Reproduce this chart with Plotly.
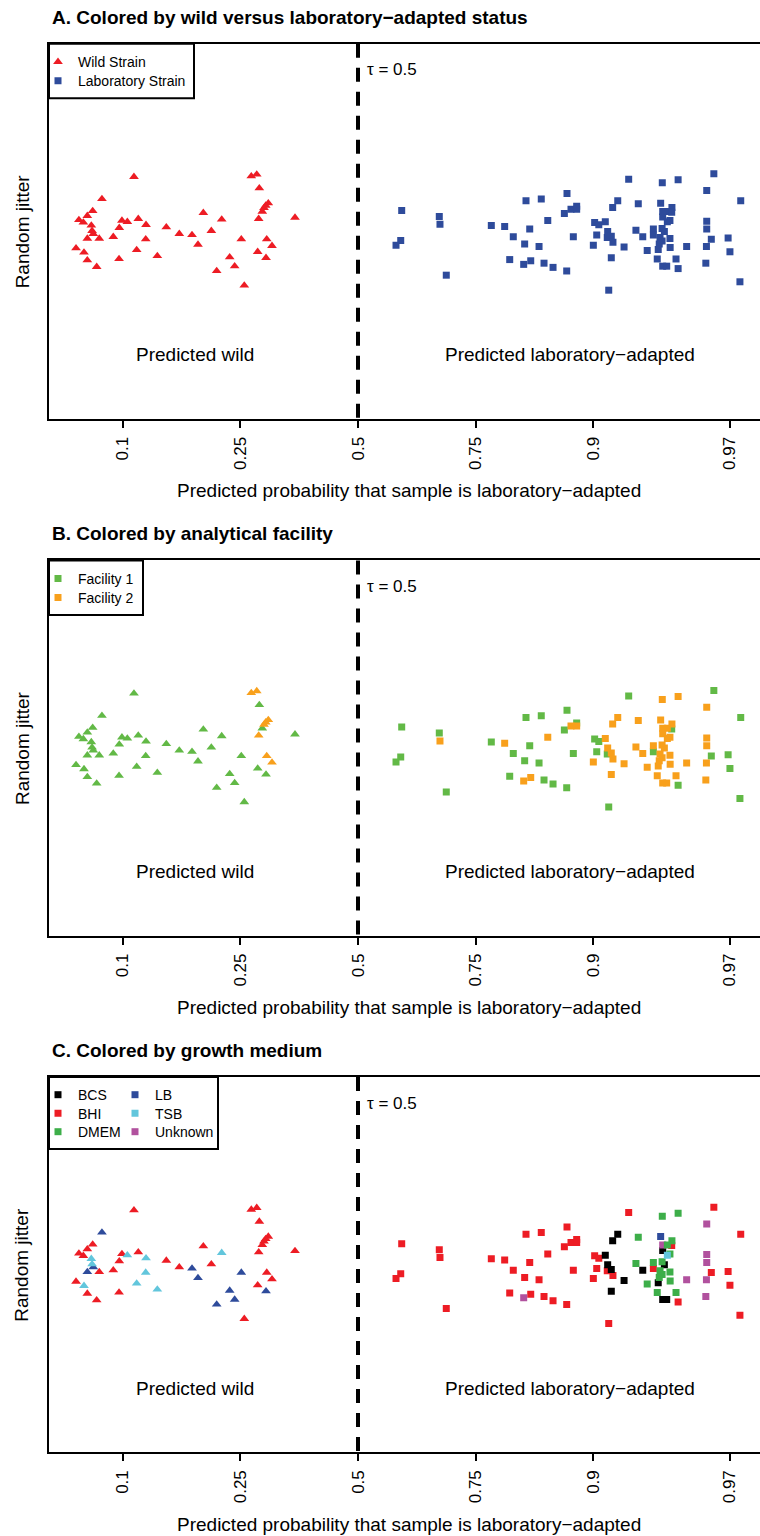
import numpy as np
import plotly.graph_objects as go

# ------------------------------------------------------------------ data
# Wild strains (triangles): predicted probability, random jitter, facility, growth medium
wild_prob = [0.1097, 0.0837, 0.0773, 0.0738, 0.0686, 0.0713, 0.0764, 0.0769, 0.0777, 0.0738,
             0.0818, 0.0669, 0.0717, 0.0738, 0.0800, 0.0992, 0.1038, 0.0970, 0.0922, 0.1137,
             0.1212, 0.1209, 0.1122, 0.0968, 0.1329, 0.1429, 0.1584, 0.1749, 0.1831, 0.1907,
             0.2025, 0.2186, 0.2515, 0.2316, 0.2107, 0.2400, 0.2568, 0.2695, 0.2796, 0.2845,
             0.3019, 0.2968, 0.2935, 0.2902, 0.2833, 0.2988, 0.3092, 0.2814, 0.2974, 0.3569]
wild_jitter = [0.92, 0.55, 0.35, 0.27, 0.20, 0.16, 0.11, 0.02, -0.03, -0.11,
               -0.11, -0.27, -0.34, -0.47, -0.58, 0.19, 0.17, 0.07, -0.08, 0.22,
               0.12, -0.12, -0.30, -0.45, -0.40, 0.08, -0.03, -0.05, -0.21, 0.32,
               0.02, 0.21, -0.12, -0.42, -0.65, -0.57, -0.89, 0.93, 0.96, 0.73,
               0.48, 0.44, 0.40, 0.34, 0.22, -0.12, -0.23, -0.33, -0.43, 0.24]
wild_facility = [1, 1, 1, 1, 1, 1, 1, 1, 1, 1,
                 1, 1, 1, 1, 1, 1, 1, 1, 1, 1,
                 1, 1, 1, 1, 1, 1, 1, 1, 1, 1,
                 1, 1, 1, 1, 1, 1, 1, 2, 2, 1,
                 2, 2, 2, 1, 2, 2, 2, 1, 1, 1]
wild_medium = ["BHI", "LB", "BHI", "BHI", "BHI", "BHI", "TSB", "TSB", "LB", "LB",
               "BHI", "BHI", "TSB", "BHI", "BHI", "BHI", "TSB", "BHI", "BHI", "BHI",
               "TSB", "TSB", "TSB", "BHI", "TSB", "BHI", "BHI", "LB", "LB", "BHI",
               "BHI", "TSB", "LB", "LB", "LB", "LB", "BHI", "BHI", "BHI", "BHI",
               "BHI", "BHI", "BHI", "BHI", "BHI", "BHI", "BHI", "BHI", "LB", "BHI"]

# Laboratory strains (squares)
lab_prob = [0.6007, 0.5985, 0.5879, 0.6813, 0.6827, 0.6953, 0.7766, 0.7975, 0.8102, 0.8278,
            0.8472, 0.8327, 0.8260, 0.8445, 0.8549, 0.8758, 0.8731, 0.8798, 0.8853, 0.8853,
            0.8821, 0.8050, 0.8247, 0.8340, 0.8505, 0.8609, 0.8755,
            0.9262, 0.9450, 0.9522, 0.9653, 0.9630, 0.9728, 0.9189, 0.9153, 0.9321, 0.9442,
            0.9495, 0.9474, 0.9452, 0.9486, 0.9013, 0.9047, 0.9098, 0.9630, 0.9630, 0.9116,
            0.9030, 0.9143, 0.9113, 0.9155, 0.9307, 0.9347, 0.9405, 0.9405, 0.9449, 0.9460,
            0.9439, 0.9449, 0.9486, 0.9435, 0.9487, 0.9430, 0.9002, 0.9232, 0.9372, 0.9557,
            0.9629, 0.9645, 0.9695, 0.9700, 0.9143, 0.9425, 0.9513, 0.9452, 0.9471, 0.9522,
            0.9627, 0.9726, 0.9124, 0.9452, 0.9494, 0.9474]
lab_jitter = [0.36, -0.14, -0.22, 0.26, 0.13, -0.72, 0.11, 0.09, -0.08, 0.52,
              0.55, 0.05, -0.20, -0.24, 0.19, 0.64, 0.31, 0.38, 0.43, 0.38,
              -0.08, -0.46, -0.54, -0.48, -0.52, -0.59, -0.65,
              0.88, 0.82, 0.87, 0.97, 0.69, 0.52, 0.52, 0.41, 0.47, 0.48,
              0.41, 0.34, 0.25, 0.19, 0.16, 0.12, 0.17, 0.18, 0.05, 0.01,
              -0.05, -0.07, -0.09, -0.17, 0.03, -0.08, 0.05, -0.05, 0.06, 0.01,
              -0.09, -0.15, -0.11, -0.20, -0.26, -0.29, -0.22, -0.25, -0.31, -0.24,
              -0.24, -0.12, -0.10, -0.33, -0.43, -0.45, -0.45, -0.57, -0.57, -0.61,
              -0.52, -0.83, -0.97, 0.34, 0.33, 0.17]
lab_facility = [1, 1, 1, 1, 2, 1, 1, 2, 1, 1,
                1, 1, 1, 1, 2, 1, 1, 2, 1, 2,
                1, 1, 2, 2, 1, 1, 1,
                1, 2, 2, 1, 2, 1, 2, 2, 2, 2,
                2, 2, 2, 2, 1, 1, 2, 2, 2, 2,
                1, 2, 1, 2, 2, 2, 2, 1, 2, 2,
                2, 2, 2, 2, 2, 2, 2, 2, 2, 2,
                2, 1, 1, 1, 2, 2, 2, 2, 2, 1,
                2, 1, 1, 2, 1, 2]
lab_medium = ["BHI", "BHI", "BHI", "BHI", "BHI", "BHI", "BHI", "BHI", "BHI", "BHI",
              "BHI", "BHI", "BHI", "BHI", "BHI", "BHI", "BHI", "BHI", "BHI", "BHI",
              "BHI", "BHI", "Unknown", "BHI", "BHI", "BHI", "BHI",
              "BHI", "DMEM", "DMEM", "BHI", "Unknown", "BHI", "BCS", "BCS", "DMEM", "LB",
              "DMEM", "DMEM", "BCS", "DMEM", "BHI", "BHI", "BCS", "Unknown", "Unknown", "BCS",
              "BHI", "BCS", "BHI", "BHI", "DMEM", "BCS", "DMEM", "BHI", "DMEM", "BCS",
              "DMEM", "DMEM", "DMEM", "DMEM", "DMEM", "BCS", "BHI", "BCS", "DMEM", "Unknown",
              "Unknown", "BHI", "BHI", "BHI", "BCS", "DMEM", "DMEM", "BCS", "BCS", "BHI",
              "Unknown", "BHI", "BHI", "Unknown", "BHI", "TSB"]

tick_probs = [0.1, 0.25, 0.5, 0.75, 0.9, 0.97]
tick_labels = ["0.1", "0.25", "0.5", "0.75", "0.9", "0.97"]
tau = 0.5
panel_titles = ["A. Colored by wild versus laboratory\u2212adapted status",
                "B. Colored by analytical facility",
                "C. Colored by growth medium"]
medium_order = ["BHI", "BCS", "Unknown", "DMEM", "LB", "TSB"]
medium_colors = {"BCS": "#000000", "BHI": "#ED1C24", "DMEM": "#3DAE49",
                 "LB": "#2E4B9B", "TSB": "#62C6DC", "Unknown": "#B1519E"}
facility_colors = {1: "#62B946", 2: "#F8A01C"}
wild_color, lab_color = "#ED1C24", "#2E4B9B"

# ------------------------------------------------------------------ helpers
def logit(p):
    p = np.asarray(p, dtype=float)
    return np.log(p / (1 - p))

W, H = 760, 1536
FONT = "Liberation Sans, Arial, Helvetica, sans-serif"
X_LEFT = 49
PANEL_TOP = [43.7, 560.4, 1077.1]
PANEL_BOTTOM = [419.0, 935.7, 1452.4]
XRANGE = [(X_LEFT - 358) / 107.0, (W - 358) / 107.0]
YRANGE = [-3.117, 3.138]
TRI, SQ = 8.5, 7

wx, wy = logit(wild_prob), np.asarray(wild_jitter)
lx, ly = logit(lab_prob), np.asarray(lab_jitter)
wf, lf = np.asarray(wild_facility), np.asarray(lab_facility)
wm, lm = np.asarray(wild_medium), np.asarray(lab_medium)

fig = go.Figure()
legend_pos = {}   # legend id -> (left px, centre y px)
leg_count = [0]


def new_legend(left, cy):
    leg_count[0] += 1
    lid = "legend" if leg_count[0] == 1 else "legend%d" % leg_count[0]
    legend_pos[lid] = (left, cy)
    return lid


def add(x, y, color, symbol, size, axis, name=None, legend=None):
    fig.add_trace(go.Scatter(
        x=x, y=y, mode="markers", name=name or "",
        marker=dict(color=color, symbol=symbol, size=size, line=dict(width=0)),
        xaxis="x" + axis, yaxis="y" + axis, showlegend=legend is not None,
        legend=legend or "legend", hoverinfo="skip"))


LEG_L1, LEG_L2 = 38, 115
ROW = 19.0
# Panel A
t = PANEL_TOP[0]
add(wx, wy, wild_color, "triangle-up", TRI, "", "Wild Strain", new_legend(LEG_L1, t + 18.5))
add(lx, ly, lab_color, "square", SQ, "", "Laboratory Strain", new_legend(LEG_L1, t + 18.5 + ROW))

# Panel B
t = PANEL_TOP[1]
for k, fac in enumerate([1, 2]):
    add(lx[lf == fac], ly[lf == fac], facility_colors[fac], "square", SQ, "2",
        "Facility %d" % fac, new_legend(LEG_L1, t + 18.5 + k * ROW))
    add(wx[wf == fac], wy[wf == fac], facility_colors[fac], "triangle-up", TRI, "2")

# Panel C
t = PANEL_TOP[2]
legend_slot = {"BCS": (LEG_L1, 0), "BHI": (LEG_L1, 1), "DMEM": (LEG_L1, 2),
               "LB": (LEG_L2, 0), "TSB": (LEG_L2, 1), "Unknown": (LEG_L2, 2)}
for med in medium_order:
    left, row = legend_slot[med]
    add(lx[lm == med], ly[lm == med], medium_colors[med], "square", SQ, "3",
        med, new_legend(left, t + 18 + row * 18.5))
    if np.any(wm == med):
        add(wx[wm == med], wy[wm == med], medium_colors[med], "triangle-up", TRI, "3")

# ------------------------------------------------------------------ layout
layout = dict(width=W, height=H, autosize=False,
              margin=dict(l=0, r=0, t=0, b=0, pad=0),
              paper_bgcolor="white", plot_bgcolor="white",
              font=dict(family=FONT, color="black"))
annotations, shapes = [], []
for i in range(3):
    s = "" if i == 0 else str(i + 1)
    top, bot = PANEL_TOP[i], PANEL_BOTTOM[i]
    layout["xaxis" + s] = dict(
        domain=[X_LEFT / W, 1], range=XRANGE, anchor="y" + s,
        tickvals=list(logit(tick_probs)), ticktext=tick_labels, tickangle=-90,
        ticks="outside", ticklen=7, tickwidth=2, tickcolor="black",
        ticklabelstandoff=2,
        showline=True, mirror=True, linecolor="black", linewidth=2,
        showgrid=False, zeroline=False, tickfont=dict(size=17, family=FONT))
    layout["yaxis" + s] = dict(
        domain=[1 - bot / H, 1 - top / H], range=YRANGE, anchor="x" + s,
        showline=True, linecolor="black", linewidth=2, showticklabels=False,
        ticks="", showgrid=False, zeroline=False)
    shapes.append(dict(type="line", xref="x" + s, yref="y" + s + " domain",
                       x0=float(logit(tau)), x1=float(logit(tau)), y0=1, y1=0,
                       line=dict(color="black", width=4, dash="14px,10px")))
    off = top - PANEL_TOP[0]
    annotations += [
        dict(text="<b>%s</b>" % panel_titles[i], xref="paper", yref="paper",
             x=50 / W, y=1 - (17 + off) / H, xanchor="left", yanchor="middle",
             showarrow=False, font=dict(size=19)),
        dict(text="Random jitter", xref="paper", yref="paper", x=22 / W,
             y=1 - (top + bot) / 2 / H, textangle=-90, xanchor="center",
             yanchor="middle", showarrow=False, font=dict(size=19)),
        dict(text="Predicted probability that sample is laboratory\u2212adapted",
             xref="paper", yref="paper", x=409 / W, y=1 - (bot + 72) / H,
             xanchor="center", yanchor="middle", showarrow=False, font=dict(size=19)),
        dict(text="Predicted wild", xref="x" + s, yref="y" + s, x=-1.523, y=-2.05,
             showarrow=False, font=dict(size=19)),
        dict(text="Predicted laboratory\u2212adapted", xref="x" + s, yref="y" + s,
             x=1.98, y=-2.05, showarrow=False, font=dict(size=19)),
        dict(text="\u03c4 = %g" % tau, xref="x" + s, yref="y" + s, x=0.065, y=2.7,
             xanchor="left", showarrow=False, font=dict(size=17)),
    ]

# legend frames
for (x1, top, hgt) in [(194, PANEL_TOP[0], 54.6), (143, PANEL_TOP[1], 54.6),
                       (218, PANEL_TOP[2], 72)]:
    shapes.append(dict(type="rect", xref="paper", yref="paper",
                       x0=X_LEFT / W, x1=x1 / W, y0=1 - top / H, y1=1 - (top + hgt) / H,
                       line=dict(color="black", width=2), fillcolor="rgba(0,0,0,0)"))

for lid, (left, cy) in legend_pos.items():
    layout[lid] = dict(bgcolor="rgba(0,0,0,0)", borderwidth=0,
                       font=dict(size=14, family=FONT), itemwidth=30,
                       xanchor="left", yanchor="middle", x=left / W, y=1 - cy / H)
layout["annotations"] = annotations
layout["shapes"] = shapes
fig.update_layout(**layout)

fig.write_html("out.html", config={"displayModeBar": False})
